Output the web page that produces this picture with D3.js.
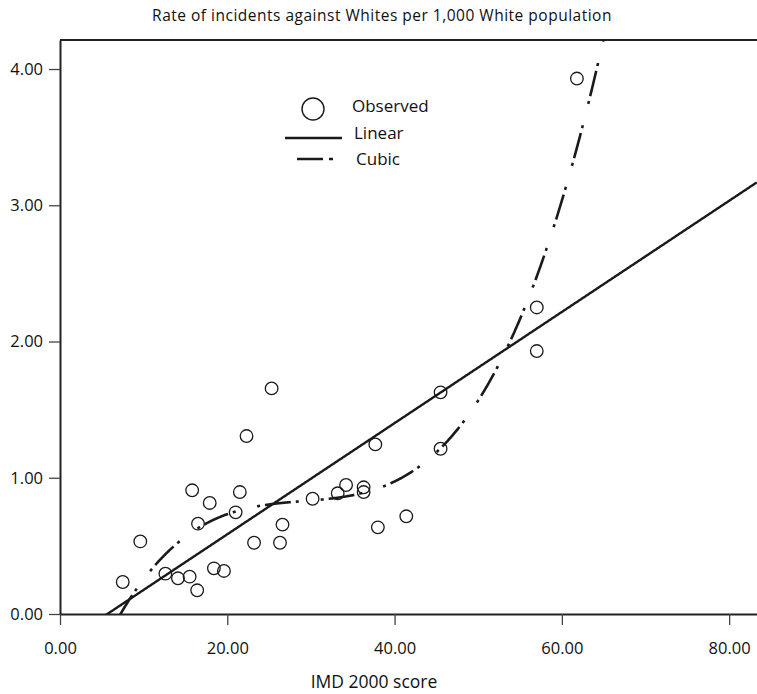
<!DOCTYPE html>
<html>
<head>
<meta charset="utf-8">
<script src="https://cdn.jsdelivr.net/npm/d3@7"></script>
<style>
  body { margin: 0; background: #fff; }
  svg { display: block; font-family: "Open Sans", Lato, sans-serif; }
</style>
</head>
<body>
<svg id="chart" width="757" height="694"></svg>
<script>
// observed points (IMD 2000 score, rate per 1,000)
var imdScore = [7.5, 9.6, 12.6, 14.1, 15.5, 15.8, 16.4, 16.5, 17.9, 18.4, 19.6,
	21.0, 21.5, 22.3, 23.2, 25.3, 26.3, 26.6, 30.2, 33.2, 34.2, 36.3, 36.3,
	37.7, 38.0, 41.4, 45.5, 45.5, 57.0, 57.0, 61.8];
var incidentRate = [0.235, 0.533, 0.296, 0.262, 0.274, 0.908, 0.174, 0.663, 0.815, 0.335, 0.316,
	0.746, 0.895, 1.306, 0.523, 1.656, 0.523, 0.656, 0.846, 0.886, 0.947, 0.930, 0.895,
	1.245, 0.636, 0.717, 1.627, 1.213, 2.250, 1.930, 3.930];

// fitted models: b0 + b1*x (+ b2*x^2 + b3*x^3)
var linearCoef = [-0.231, 0.0408];
var cubicCoef = [-1.01697, 0.180753, -0.00605133, 0.0000694];

var xTicks = [0, 20, 40, 60, 80];
var yTicks = [0, 1, 2, 3, 4];

var titleText = "Rate of incidents against Whites per 1,000 White population";
var xLabel = "IMD 2000 score";

var svg = d3.select("#chart");
var plotLeft = 60, plotRight = 757, plotTop = 40, plotBottom = 614;

var x = d3.scaleLinear().domain([0, 83.33]).range([plotLeft, plotRight]);
var y = d3.scaleLinear().domain([0, 4.213]).range([plotBottom, plotTop]);

function poly(coef, v) {
	var s = 0;
	for (var i = coef.length - 1; i >= 0; i--) s = s * v + coef[i];
	return s;
}

svg.append("clipPath").attr("id", "plotclip")
	.append("rect")
	.attr("x", plotLeft).attr("y", plotTop)
	.attr("width", plotRight - plotLeft).attr("height", plotBottom - plotTop);

// title
svg.append("text")
	.attr("x", 382).attr("y", 21)
	.attr("text-anchor", "middle")
	.style("font-size", "15.5px")
	.style("letter-spacing", "0.5px")
	.attr("fill", "#111")
	.text(titleText);

// frame top
svg.append("line")
	.attr("x1", plotLeft).attr("x2", plotRight)
	.attr("y1", plotTop).attr("y2", plotTop)
	.attr("stroke", "#222").attr("stroke-width", 2);

var gx = svg.append("g")
	.attr("transform", "translate(0," + plotBottom + ")")
	.call(d3.axisBottom(x).tickValues(xTicks).tickSize(11).tickSizeOuter(0).tickPadding(17)
		.tickFormat(d3.format(".2f")));

var gy = svg.append("g")
	.attr("transform", "translate(" + plotLeft + ",0)")
	.call(d3.axisLeft(y).tickValues(yTicks).tickSize(11).tickSizeOuter(0).tickPadding(6)
		.tickFormat(d3.format(".2f")));

[gx, gy].forEach(function (g) {
	g.select(".domain").attr("stroke", "#222").attr("stroke-width", 2);
	g.selectAll(".tick line").attr("stroke", "#444").attr("stroke-width", 1.3);
	g.selectAll(".tick text")
		.attr("fill", "#111")
		.style("font-size", "16.5px")
		.style("font-family", "'Open Sans', Lato, sans-serif");
});

// x axis label
svg.append("text")
	.attr("x", 374).attr("y", 688)
	.attr("text-anchor", "middle")
	.style("font-size", "17.5px")
	.attr("fill", "#111")
	.text(xLabel);

// fitted curves
var xs = d3.range(0, 83.4, 0.1);
var line = d3.line()
	.x(function (d) { return x(d[0]); })
	.y(function (d) { return y(d[1]); });

var plot = svg.append("g").attr("clip-path", "url(#plotclip)");

plot.append("path")
	.datum(xs.map(function (v) { return [v, poly(linearCoef, v)]; }))
	.attr("d", line)
	.attr("fill", "none")
	.attr("stroke", "#1a1a1a")
	.attr("stroke-width", 2.4);

plot.append("path")
	.datum(xs.filter(function (v) { return v > 6.9 && v < 65.5; })
		.map(function (v) { return [v, poly(cubicCoef, v)]; }))
	.attr("d", line)
	.attr("fill", "none")
	.attr("stroke", "#1a1a1a")
	.attr("stroke-width", 2.6)
	.attr("stroke-dasharray", "26,5,3,22,3,5");

// observed
plot.selectAll("circle.obs")
	.data(imdScore)
	.enter().append("circle")
	.attr("class", "obs")
	.attr("cx", function (d) { return x(d); })
	.attr("cy", function (d, i) { return y(incidentRate[i]); })
	.attr("r", 6.3)
	.attr("fill", "none")
	.attr("stroke", "#1a1a1a")
	.attr("stroke-width", 1.3);

// legend
var legend = svg.append("g");
legend.append("circle")
	.attr("cx", 313).attr("cy", 109).attr("r", 11)
	.attr("fill", "none").attr("stroke", "#1a1a1a").attr("stroke-width", 1.4);
legend.append("line")
	.attr("x1", 285).attr("x2", 342).attr("y1", 138).attr("y2", 138)
	.attr("stroke", "#1a1a1a").attr("stroke-width", 2.4);
legend.append("line")
	.attr("x1", 297).attr("x2", 333).attr("y1", 159).attr("y2", 159)
	.attr("stroke", "#1a1a1a").attr("stroke-width", 2.6)
	.attr("stroke-dasharray", "26,6,4,10");

var legendText = ["Observed", "Linear", "Cubic"];
var legendX = [352, 354, 356];
var legendY = [106, 133, 159];
legend.selectAll("text")
	.data(legendText)
	.enter().append("text")
	.attr("x", function (d, i) { return legendX[i]; })
	.attr("y", function (d, i) { return legendY[i]; })
	.attr("dy", "0.35em")
	.style("font-size", "17px")
	.attr("fill", "#111")
	.text(function (d) { return d; });
</script>
</body>
</html>
